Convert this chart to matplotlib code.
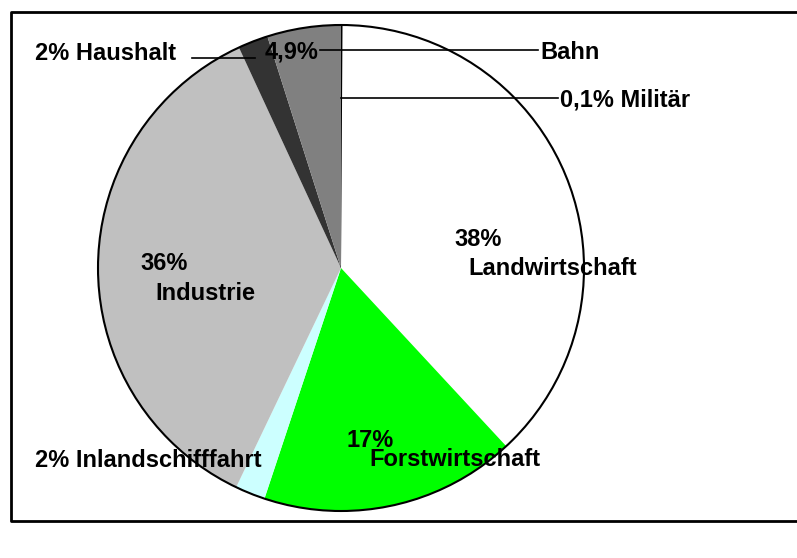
import matplotlib.pyplot as plt
from matplotlib.patches import Circle

# sectors, clockwise from 12 o'clock
names = ["Militär", "Landwirtschaft", "Forstwirtschaft", "Inlandschifffahrt",
         "Industrie", "Haushalt", "Bahn"]
shares = [0.1, 38, 17, 2, 36, 2, 4.9]
colors = ["#FFFFFF", "#FFFFFF", "#00FF00", "#CCFFFF", "#C0C0C0", "#333333", "#808080"]

W, H = 797, 558
plt.rcParams["font.family"] = ["Liberation Sans", "DejaVu Sans"]
plt.rcParams["font.weight"] = "bold"
FS = 17

fig = plt.figure(figsize=(W / 100, H / 100), dpi=100)
ax = fig.add_axes([0, 0, 1, 1])

cx, cy, r = 341, H - 268, 243
wedges, _ = ax.pie(shares, colors=colors, startangle=90, counterclock=False,
                   center=(cx, cy), radius=r, frame=True,
                   wedgeprops=dict(linewidth=0))
# only the tiny first sector gets black edges, plus the outer circle
wedges[0].set_edgecolor("black")
wedges[0].set_linewidth(1.2)
ax.add_patch(Circle((cx, cy), r, fill=False, edgecolor="black", linewidth=1.5))

ax.set_xlim(0, W)
ax.set_ylim(0, H)
ax.set_aspect("equal")
ax.axis("off")


def pct(v):
    return f"{v:g}%".replace(".", ",")


def txt(x, y, s):
    ax.text(x, H - y, s, fontsize=FS, fontweight="bold", ha="left", va="baseline")


def line(x0, x1, y):
    ax.plot([x0, x1], [H - y, H - y], color="black", linewidth=1.2)


# outside labels with leader lines
txt(35, 60, f"{pct(shares[5])} {names[5]}")
line(192, 255, 58)
txt(265, 59, pct(shares[6]))
line(320, 538, 50)
txt(540, 59, names[6])
line(341, 558, 98)
txt(560, 107, f"{pct(shares[0])} {names[0]}")
txt(35, 467, f"{pct(shares[3])} {names[3]}")

# labels inside the big sectors
txt(454, 246, pct(shares[1]))
txt(468, 275, names[1])
txt(347, 447, pct(shares[2]))
txt(369, 466, names[2])
txt(140, 270, pct(shares[4]))
txt(155, 300, names[4])

# chart frame (right side runs off the picture)
ax.plot([W + 5, 11, 11, W + 5], [H - 12, H - 12, H - 521, H - 521],
        color="black", linewidth=2, clip_on=False)

fig.savefig("out.png", dpi=100)
